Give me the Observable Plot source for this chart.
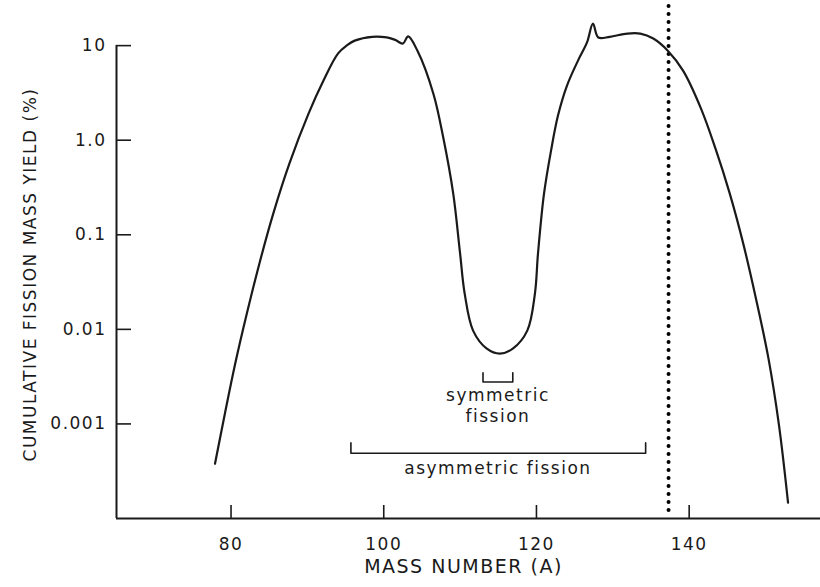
<!DOCTYPE html>
<html>
<head>
<meta charset="utf-8">
<script src="https://cdn.jsdelivr.net/npm/d3@7"></script>
<script src="https://cdn.jsdelivr.net/npm/@observablehq/plot@0.6"></script>
<style>
  html, body { margin: 0; padding: 0; background: #fff; }
  svg text { letter-spacing: 1.5px; }
</style>
</head>
<body>
<div id="chart"></div>
<script>
// Cumulative fission mass-yield curve (%), by mass number A
const massNumber = [77.9, 79.2, 80.55, 82.07, 83.71, 85.53, 87.64, 90.15, 92.11, 94.0, 95.2,
  96.2, 98.5, 100.4, 101.5, 102.5, 103.2, 104.4, 106.5, 107.8, 109.1, 110.0, 110.6, 111.7,
  113.5, 115.2, 116.9, 118.8, 119.8, 120.2, 120.99, 121.91, 122.82, 124.0, 125.44, 126.62,
  127.4, 128.1, 129.6, 131.9, 133.6, 135.3, 137.2, 139.2, 141.55, 143.45, 145.28, 147.05,
  148.75, 150.39, 151.77, 152.95];
const yieldPct = [3.8e-4, 1.29e-3, 4.35e-3, 0.0147, 0.0495, 0.1675, 0.565, 1.91, 4.27,
  8.23, 10.1, 11.3, 12.4, 12.2, 11.5, 10.5, 12.5, 8.86, 3.1, 1.06, 0.272, 0.0632, 0.0239,
  0.0097, 0.00625, 0.00554, 0.00625, 0.0097, 0.0239, 0.0632, 0.272, 0.776, 1.82, 3.78,
  6.94, 10.8, 17.1, 12.2, 12.4, 13.4, 13.4, 11.9, 8.85, 5.44, 2.16, 0.815, 0.279,
  0.0826, 0.0211, 0.0049, 9.6e-4, 1.47e-4];

// Axis ticks
const xTicks = [80, 100, 120, 140];
const yTicks = [10, 1, 0.1, 0.01, 0.001];
const yTickLabels = ["10", "1.0", "0.1", "0.01", "0.001"];

// Marker for A = 137
const markerA = [137.3];

// Ranges of symmetric and asymmetric fission
const symmetricRange = [113.0, 116.9];
const asymmetricRange = [95.7, 134.3];
const symmetricBracketY = [0.00347, 0.00278];
const asymmetricBracketY = [6.3e-4, 4.9e-4];

const curve = massNumber.map((a, i) => ({a, y: yieldPct[i]}));
const bracket = (r, ys) => [
  {a: r[0], y: ys[0]}, {a: r[0], y: ys[1]}, {a: r[1], y: ys[1]}, {a: r[1], y: ys[0]}
];

const mid = (symmetricRange[0] + symmetricRange[1]) / 2;
const annotations = [
  {a: mid, y: 0.00198, text: "symmetric"},
  {a: mid, y: 0.00119, text: "fission"},
  {a: mid, y: 3.4e-4, text: "asymmetric fission"}
];

const ink = "#1a1a1a";
const font = "DejaVu Sans";

const chart = Plot.plot({
  width: 820,
  height: 587,
  marginLeft: 116,
  marginRight: 0,
  marginTop: 0,
  marginBottom: 69,
  style: {fontFamily: font, color: ink, background: "#fff"},
  x: {domain: [65, 157.2]},
  y: {type: "log", domain: [1e-4, 30]},
  marks: [
    Plot.axisX({
      ticks: xTicks, tickSize: -13, tickPadding: 32, tickFormat: d => String(d),
      fontSize: 17, label: null, stroke: ink, strokeWidth: 1.6
    }),
    Plot.axisY({
      ticks: yTicks, tickSize: -15, tickPadding: 25,
      tickFormat: (d) => yTickLabels[yTicks.indexOf(d)],
      fontSize: 17, label: null, stroke: ink, strokeWidth: 1.6
    }),
    // frame: left spine up to the top tick, and the bottom axis line
    Plot.ruleX([65], {y1: yTicks[0], y2: 1e-4, stroke: ink, strokeWidth: 2}),
    Plot.ruleY([1e-4], {stroke: ink, strokeWidth: 2}),
    // dotted marker
    Plot.ruleX(markerA, {y1: 26, y2: 1.1e-4, stroke: "#000", strokeWidth: 4,
      strokeDasharray: "0,8", strokeLinecap: "round"}),
    // yield curve
    Plot.line(curve, {x: "a", y: "y", curve: "catmull-rom", stroke: ink, strokeWidth: 2.2}),
    // brackets
    Plot.line(bracket(symmetricRange, symmetricBracketY), {x: "a", y: "y", stroke: ink, strokeWidth: 1.6}),
    Plot.line(bracket(asymmetricRange, asymmetricBracketY), {x: "a", y: "y", stroke: ink, strokeWidth: 1.6}),
    Plot.text(annotations, {x: "a", y: "y", text: "text", fontSize: 17, fill: ink}),
    // axis titles
    Plot.text(["MASS NUMBER (A)"], {frameAnchor: "bottom", dx: -5, dy: 54, fontSize: 19, fill: ink}),
    Plot.text(["CUMULATIVE FISSION MASS YIELD (%)"], {frameAnchor: "left", textAnchor: "middle",
      rotate: -90, dx: -86, dy: 15, fontSize: 17, fill: ink})
  ]
});

document.getElementById("chart").appendChild(chart);
</script>
</body>
</html>
